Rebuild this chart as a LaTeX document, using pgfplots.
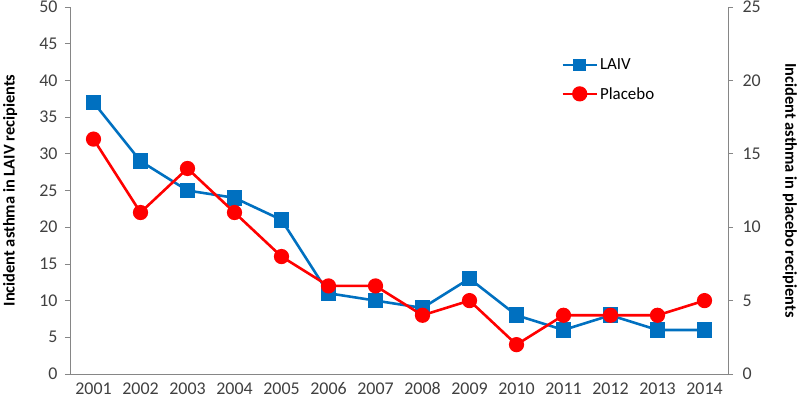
\documentclass[border=0pt]{standalone}
\usepackage{pgfplots}
\pgfplotsset{compat=1.18}
\usepackage{fontspec}
\setmainfont{Carlito}
\definecolor{laiv}{RGB}{0,112,192}
\definecolor{plac}{RGB}{255,0,0}
\definecolor{axgray}{RGB}{134,134,134}
\definecolor{txt}{RGB}{64,64,64}
\pgfplotstableread{
x laiv plac
0 37 16
1 29 11
2 25 14
3 24 11
4 21 8
5 11 6
6 10 6
7 9 4
8 13 5
9 8 2
10 6 4
11 8 4
12 6 4
13 6 5
}\data
\begin{document}
\begin{tikzpicture}
\pgfplotsset{
  base/.style={
    scale only axis, width=658bp, height=367bp,
    xmin=-0.5, xmax=13.5,
    /pgf/number format/assume math mode=true,
    tick label style={font=\fontsize{18}{20}\selectfont, text=txt},
    label style={font=\fontsize{16.5}{18}\selectfont\bfseries},
    axis line style={axgray, line width=0.8pt},
    tick style={axgray, line width=0.8pt},
    major tick length=5bp, minor tick length=5bp,
  }
}
\begin{axis}[base,
  axis y line*=left, axis x line*=bottom,
  ymin=0, ymax=50, ytick={0,5,...,50},
  xtick={0,...,13},
  xticklabels={2001,2002,2003,2004,2005,2006,2007,2008,2009,2010,2011,2012,2013,2014},
  xtick style={draw=none},
  minor xtick={-0.5,0.5,...,13.5},
  minor x tick style={axgray, line width=0.8pt},
  xtick pos=bottom, ytick pos=left,
  tick align=outside,
  ylabel={Incident asthma in LAIV recipients},
  ylabel style={at={(axis description cs:-0.091,0.5)}, anchor=center},
  yticklabel style={xshift=-4bp},
]
\addplot[laiv, line width=2.6pt, mark=square*, mark size=6.5bp, mark options={solid}] table[x=x,y=laiv]{\data};
\end{axis}
\begin{axis}[base,
  axis y line*=right, axis x line=none,
  ymin=0, ymax=25, ytick={0,5,...,25},
  ytick pos=right, tick align=outside,
  yticklabel style={xshift=6bp},
  ylabel={Incident asthma in placebo recipients},
  ylabel style={at={(axis description cs:1.094,0.5)}, anchor=center, rotate=180},
  legend style={draw=none, fill=none, at={(0.742,0.87)}, anchor=north west,
    font=\fontsize{17}{19}\selectfont, row sep=12bp, text=black},
  legend cell align=left,
  legend image code/.code={
    \draw[#1, line width=2.6pt] (0bp,0bp) -- (34bp,0bp);
    \draw[#1, mark repeat=1] plot coordinates {(17bp,0bp)};
  },
]
\addlegendimage{laiv, line width=2.6pt, mark=square*, mark size=5bp}
\addlegendentry{LAIV}
\addplot[plac, line width=2.6pt, mark=*, mark size=6.3bp] table[x=x,y=plac]{\data};
\addlegendentry{Placebo}
\end{axis}
\pgfresetboundingbox
\path[use as bounding box] (-70bp,-29bp) rectangle (730bp,374bp);
\end{tikzpicture}
\end{document}
